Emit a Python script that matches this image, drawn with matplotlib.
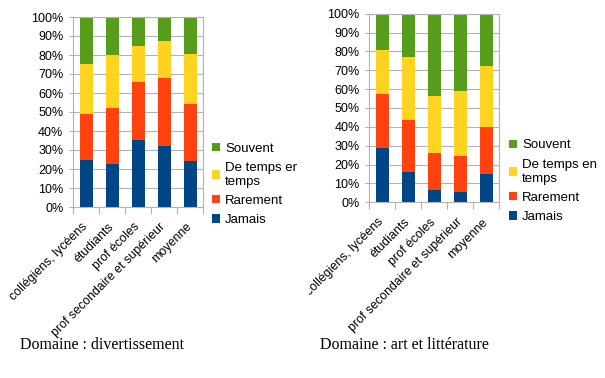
import numpy as np
import matplotlib
matplotlib.use("Agg")
import matplotlib.pyplot as plt
from matplotlib.transforms import Bbox, TransformedBbox, ScaledTranslation

# ---- data (percent of answers) ---------------------------------------------
categories = ["collégiens, lycéens", "étudiants", "prof écoles",
              "prof secondaire et supérieur", "moyenne"]
series = ["Jamais", "Rarement", "De temps en\ntemps", "Souvent"]
colors = ["#004586", "#ff420e", "#ffd320", "#579d1c"]

# domaine : divertissement
div_jamais = [25.0, 22.8, 35.4, 32.3, 24.4]
div_rarement = [24.0, 29.2, 30.6, 35.7, 30.0]
div_temps = [26.3, 28.2, 18.7, 19.5, 26.3]
div_souvent = [24.7, 19.8, 15.3, 12.5, 19.3]

# domaine : art et littérature
art_jamais = [28.9, 16.2, 6.7, 5.6, 15.2]
art_rarement = [28.5, 27.6, 19.4, 18.8, 24.5]
art_temps = [23.3, 33.0, 30.2, 34.7, 32.4]
art_souvent = [19.3, 23.2, 43.7, 40.9, 27.9]

yticks = list(range(0, 101, 10))
ytick_labels = [f"{v}%" for v in yticks]

GRID = "#b3b3b3"
W, H = 605, 378

fig = plt.figure(figsize=(W / 100, H / 100), dpi=100)
plt.rcParams["font.family"] = ["Liberation Sans", "DejaVu Sans"]


def px_axes(x0, x1, ytop, ybot):
    return fig.add_axes([x0 / W, 1 - ybot / H, (x1 - x0) / W, (ybot - ytop) / H])


def clip_region(x0, x1):
    return TransformedBbox(Bbox([[x0 / W, 0], [x1 / W, 1]]), fig.transFigure)


def stacked(ax, parts, legend_xy, caption, caption_xy):
    x = np.arange(len(categories))
    bottom = np.zeros(len(categories))
    handles = []
    for vals, c, name in zip(parts, colors, series):
        b = ax.bar(x, vals, 0.5, bottom=bottom, color=c, label=name, zorder=2)
        bottom += np.array(vals)
        handles.append(b)
    ax.set_xlim(-0.5, len(categories) - 0.5)
    ax.set_ylim(0, 100)
    ax.set_yticks(yticks)
    ax.set_yticklabels(ytick_labels, fontsize=9)
    ax.yaxis.grid(True, color=GRID, lw=0.8, zorder=0)
    ax.set_axisbelow(True)
    ax.tick_params(axis="y", length=3, width=0.8, color=GRID, pad=4)
    ax.set_xticks(x)
    ax.set_xticklabels(categories, rotation=45, ha="right", va="top",
                       rotation_mode="anchor", fontsize=8.9)
    ax.set_xticks(np.arange(-0.5, len(categories)), minor=True)
    ax.tick_params(axis="x", which="major", length=0, pad=10)
    ax.tick_params(axis="x", which="minor", length=5, width=0.8, color=GRID)
    for s in ax.spines.values():
        s.set_color(GRID)
        s.set_linewidth(0.8)

    leg = fig.legend(handles[::-1], series[::-1], loc="upper left",
                     bbox_to_anchor=(legend_xy[0] / W, 1 - legend_xy[1] / H),
                     frameon=False, fontsize=9.5, handlelength=0.6,
                     handleheight=0.6, handletextpad=0.4, labelspacing=0.55,
                     borderpad=0, borderaxespad=0)
    fig.text(caption_xy[0] / W, 1 - caption_xy[1] / H, caption,
             family=["Liberation Serif", "DejaVu Serif"], fontsize=11.5,
             ha="left", va="baseline")
    return leg


ax1 = px_axes(73, 203, 17, 207)
leg1 = stacked(ax1, [div_jamais, div_rarement, div_temps, div_souvent],
               (212, 142.5), "Domaine : divertissement", (20, 349))
ax2 = px_axes(369.3, 499.3, 13.7, 202.3)
leg2 = stacked(ax2, [art_jamais, art_rarement, art_temps, art_souvent],
               (509, 139.5), "Domaine : art et littérature", (320, 349))

# the two charts were pasted side by side: each one is cut at its own edge
fig.canvas.draw()
shift = ScaledTranslation(-4.5 / 100, 0, fig.dpi_scale_trans)
for ax, leg, clip in [(ax1, leg1, clip_region(0, 297)),
                      (ax2, leg2, clip_region(309, W))]:
    for t in ax.get_xticklabels():
        t.set_transform(t.get_transform() + shift)
    for t in list(ax.get_xticklabels()) + list(leg.get_texts()):
        t.set_clip_box(clip)
        t.set_clip_on(True)

fig.savefig("out.png", dpi=100)
